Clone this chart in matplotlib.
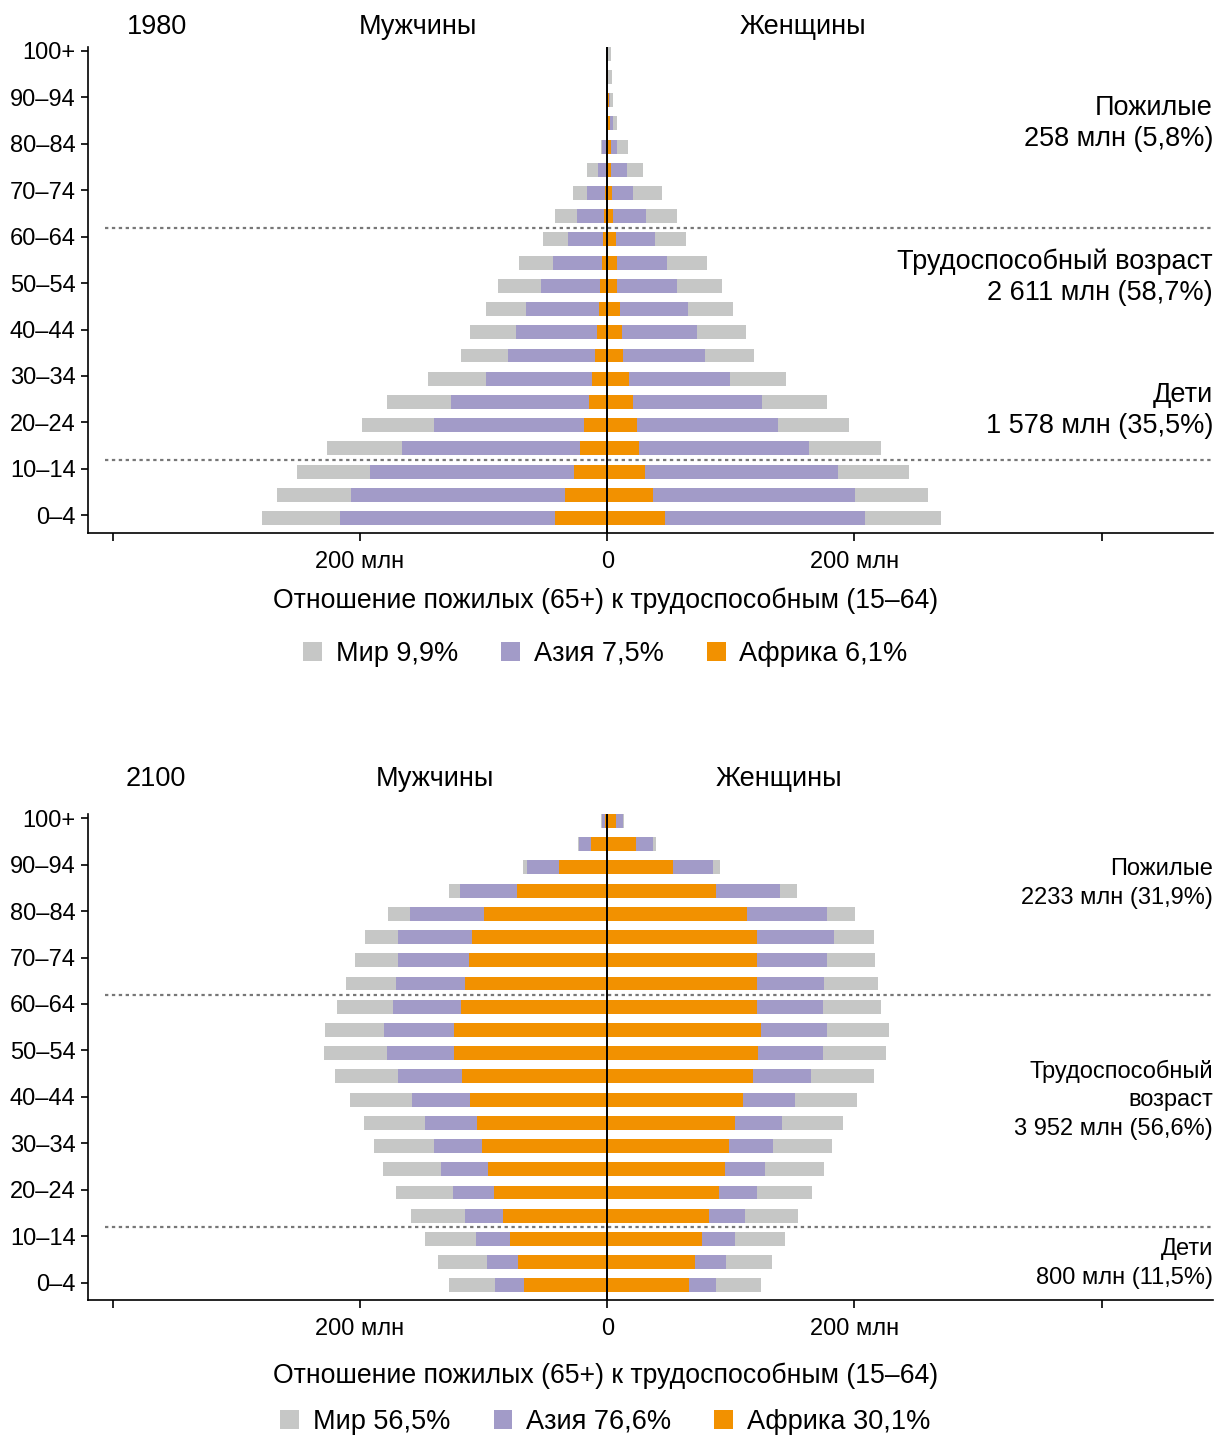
import matplotlib
matplotlib.use("Agg")
import matplotlib.pyplot as plt
from matplotlib.patches import Patch
import numpy as np

plt.rcParams['font.family'] = ['Liberation Sans', 'DejaVu Sans']

W, H = 1218, 1436

age_groups = ["0–4", "5–9", "10–14", "15–19", "20–24", "25–29", "30–34", "35–39",
              "40–44", "45–49", "50–54", "55–59", "60–64", "65–69", "70–74",
              "75–79", "80–84", "85–89", "90–94", "95–99", "100+"]

# Population, millions. Asia and Africa are segments of the world total.
# 1980
world_m_1980 = [279, 267, 251, 227, 198, 178, 145, 118, 111, 98, 88, 71, 52, 42, 28, 16, 5.4, 1.4, 0.5, 0.2, 0.1]
asia_m_1980 = [174, 173, 165, 144, 121, 111, 86, 70, 66, 59, 48, 39, 28, 22, 14.4, 6.5, 3.5, 0.6, 0.25, 0.1, 0]
africa_m_1980 = [42, 34, 27, 22, 19, 15, 12, 10, 8, 6.5, 5.5, 4.5, 3.5, 2.5, 1.8, 1.0, 0.5, 0.2, 0.05, 0, 0]
world_f_1980 = [270, 259.6, 244, 221.6, 195.8, 178, 145, 119, 112.6, 102, 93, 81, 64, 56.8, 44.7, 29.3, 17.2, 8.3, 5, 3.5, 3]
asia_f_1980 = [162, 163, 156, 137, 114.5, 104, 81, 66, 61.4, 55.7, 48.5, 39.7, 32.3, 26, 17.7, 12.6, 5.3, 2.5, 0.5, 0.2, 0.1]
africa_f_1980 = [46.6, 37.4, 30.9, 26, 23.9, 21, 18, 13, 11.6, 10, 8.3, 8.3, 6.7, 5, 3.5, 3, 3, 2.5, 1.5, 0.3, 0.2]

# 2100
world_m_2100 = [127.9, 136.6, 147.4, 158.8, 170.8, 181.6, 189, 197, 208, 220, 229.3, 228.4, 218.8, 211.5, 204.2, 196.1, 177.5, 128.2, 68.4, 23.7, 5.1]
asia_m_2100 = [23.5, 25.2, 27.2, 30.4, 33.2, 38, 38.8, 42.6, 47, 51.8, 54.1, 56.6, 55.1, 55.8, 57.4, 59.8, 59.8, 46, 25.8, 9.7, 2.7]
africa_m_2100 = [67.2, 71.9, 79, 84.4, 91.4, 96.7, 101.6, 105, 111, 117.7, 124.2, 124.2, 118.5, 115.3, 112.1, 109.7, 100, 73.3, 39.4, 13.2, 1.6]
world_f_2100 = [124.7, 133.6, 144.1, 154.6, 166, 175, 182, 191, 202, 216, 225.7, 228, 221.6, 219, 216.8, 216, 200.6, 153.8, 91.5, 39.8, 13.2]
asia_f_2100 = [21.9, 24.5, 26.8, 28.9, 30.2, 32.4, 35.6, 38, 42, 46.8, 52.5, 53.3, 53.3, 54.7, 57.1, 62.8, 64.6, 51.7, 32.3, 14.5, 5.7]
africa_f_2100 = [66.4, 71.2, 76.9, 82.7, 90.7, 95.6, 98.8, 103.7, 110, 118.2, 122.3, 124.7, 121.5, 120.9, 120.9, 120.9, 113.4, 88.3, 53.6, 22.9, 6.7]

panels = [
    dict(year="1980",
         m=(world_m_1980, asia_m_1980, africa_m_1980),
         f=(world_f_1980, asia_f_1980, africa_f_1980),
         groups=[("Пожилые", "258 млн (5,8%)"),
                 ("Трудоспособный возраст", "2 611 млн (58,7%)"),
                 ("Дети", "1 578 млн (35,5%)")],
         ratios=["Мир 9,9%", "Азия 7,5%", "Африка 6,1%"]),
    dict(year="2100",
         m=(world_m_2100, asia_m_2100, africa_m_2100),
         f=(world_f_2100, asia_f_2100, africa_f_2100),
         groups=[("Пожилые", "2233 млн (31,9%)"),
                 ("Трудоспособный", "возраст", "3 952 млн (56,6%)"),
                 ("Дети", "800 млн (11,5%)")],
         ratios=["Мир 56,5%", "Азия 76,6%", "Африка 30,1%"]),
]

C_WORLD = "#C6C7C6"
C_ASIA = "#A29BC8"
C_AFRICA = "#F29100"
FS = 19.5       # headers and legends
FS_TITLE = 19.2
FS_TICK = 17    # axis tick labels

fig = plt.figure(figsize=(W / 100, H / 100), dpi=100)


def fx(px):
    return px / W


def fy(py):
    return 1 - py / H


# layout in pixels: axes box, header row, title row, legend row, right-hand notes
layout = [
    dict(top=46.7, bottom=532.7, head=27, title=601, legend=654,
         head_x=(157, 418, 803), note_fs=19.5,
         notes=[(108, 139), (262, 293), (395, 426)]),
    dict(top=814, bottom=1300, head=779, title=1376, legend=1422,
         head_x=(156, 435, 779), note_fs=17,
         notes=[(869, 898), (1071, 1100, 1129), (1249, 1278)]),
]

y = np.arange(len(age_groups))
left_px, right_px = 88, 1213

for p, L in zip(panels, layout):
    ax = fig.add_axes([fx(left_px), fy(L["bottom"]), fx(right_px) - fx(left_px),
                       fy(L["top"]) - fy(L["bottom"])])
    wm, am, fm = (np.array(a) for a in p["m"])
    wf, af, ff = (np.array(a) for a in p["f"])
    h = 0.6
    # world total, Africa + Asia, Africa — all drawn from zero
    ax.barh(y, -wm, height=h, color=C_WORLD, lw=0)
    ax.barh(y, -(fm + am), height=h, color=C_ASIA, lw=0)
    ax.barh(y, -fm, height=h, color=C_AFRICA, lw=0)
    ax.barh(y, wf, height=h, color=C_WORLD, lw=0)
    ax.barh(y, ff + af, height=h, color=C_ASIA, lw=0)
    ax.barh(y, ff, height=h, color=C_AFRICA, lw=0)

    ax.axvline(0, color="black", lw=1.4, zorder=5)
    for yb in (2.5, 12.5):
        ax.axhline(yb, xmin=0.015, xmax=1, color="#777777", lw=1.6,
                   linestyle=(0, (1.5, 1.6)), zorder=4)

    ax.set_xlim(-420, 490)
    ax.set_ylim(-0.63, 20.3)
    ax.set_xticks([-400, -200, 0, 200, 400])
    ax.set_xticklabels(["", "200 млн", "0", "200 млн", ""], fontsize=FS_TICK)
    ax.set_yticks(y[::2] + 0.12)
    ax.set_yticklabels(age_groups[::2], fontsize=FS_TICK)
    for s in ("top", "right"):
        ax.spines[s].set_visible(False)
    for s in ("left", "bottom"):
        ax.spines[s].set_linewidth(1.2)
    ax.tick_params(axis="x", length=6, width=1.2, pad=7)
    ax.tick_params(axis="y", length=5, width=1.2, pad=4)

    # headers
    for txt, xp in zip((p["year"], "Мужчины", "Женщины"), L["head_x"]):
        fig.text(fx(xp), fy(L["head"]), txt, ha="center", va="center", fontsize=FS)

    # age group notes on the right
    for lines, ys in zip(p["groups"], L["notes"]):
        for line, yp in zip(lines, ys):
            fig.text(fx(right_px), fy(yp), line, ha="right", va="center",
                     fontsize=L["note_fs"])

    fig.text(0.497, fy(L["title"]), "Отношение пожилых (65+) к трудоспособным (15–64)",
             ha="center", va="center", fontsize=FS_TITLE)

    handles = [Patch(facecolor=c, edgecolor="none") for c in (C_WORLD, C_ASIA, C_AFRICA)]
    fig.legend(handles, p["ratios"], loc="center", bbox_to_anchor=(0.497, fy(L["legend"])),
               ncol=3, frameon=False, fontsize=FS, handlelength=0.7, handleheight=0.7,
               handletextpad=0.5, columnspacing=1.6)

fig.savefig("out.png", dpi=100)
